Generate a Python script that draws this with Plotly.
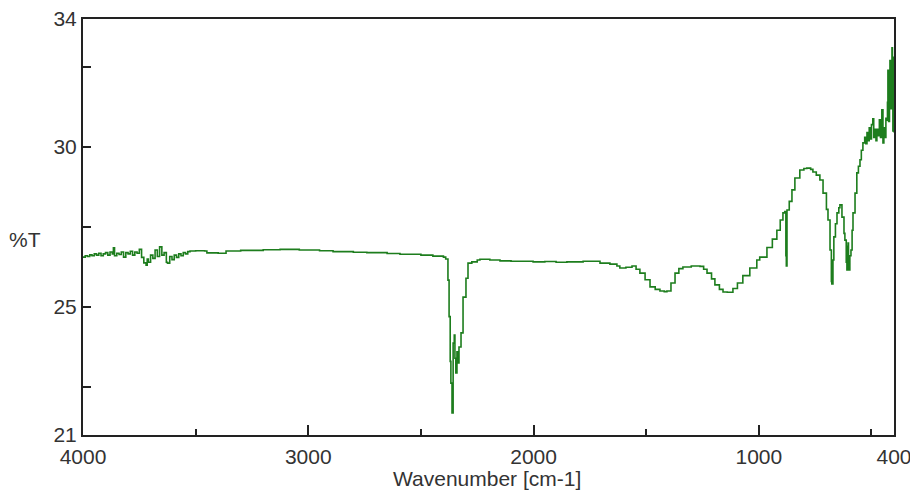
import plotly.graph_objects as go

# Wavenumber (cm-1) and transmittance (%T)
wavenumber = [
    4000, 3990, 3980, 3970, 3960, 3950, 3940, 3930, 3920, 3910, 3900, 3890, 3880, 3870,
    3865, 3860, 3850, 3840, 3830, 3820, 3810, 3800, 3790, 3780, 3770, 3760, 3750, 3740,
    3730, 3720, 3715, 3710, 3700, 3690, 3680, 3670, 3660, 3650, 3640, 3630, 3625, 3615,
    3605, 3595, 3585, 3575, 3565, 3555, 3545, 3535, 3525, 3500, 3460, 3450, 3400, 3375,
    3365, 3300, 3200, 3125, 3040, 2950, 2890, 2800, 2740, 2650, 2593, 2500, 2447, 2400,
    2390, 2380, 2375, 2370, 2367, 2362, 2357, 2352, 2349, 2345, 2340, 2336, 2331, 2322,
    2313, 2300, 2291, 2274, 2250, 2238, 2194, 2149, 2100, 2002, 1950, 1900, 1852, 1780,
    1705, 1661, 1630, 1617, 1590, 1563, 1545, 1528, 1505, 1483, 1460, 1439, 1420, 1408,
    1390, 1372, 1355, 1337, 1300, 1261, 1245, 1230, 1210, 1195, 1175, 1159, 1140, 1115,
    1095, 1071, 1040, 1009, 996, 964, 940, 920, 905, 893, 885, 880, 878, 875, 865, 853,
    840, 818, 800, 787, 770, 760, 745, 729, 715, 700, 693, 684, 678, 676, 671, 667, 660,
    653, 645, 640, 631, 622, 618, 612, 609, 606, 604, 602, 600, 596, 591, 586, 582, 573,
    565, 558, 551, 545, 538, 530, 525, 520, 515, 510, 505, 500, 494, 490, 485, 480, 476,
    470, 465, 460, 454, 449, 445, 440, 436, 431, 429, 427, 424, 420, 418, 415, 412, 409,
    407, 405, 402, 400,
]
transmittance = [
    26.56, 26.60, 26.58, 26.63, 26.60, 26.66, 26.62, 26.68, 26.60, 26.66, 26.70, 26.62, 26.72, 26.66,
    26.85, 26.60, 26.68, 26.64, 26.72, 26.56, 26.70, 26.66, 26.74, 26.62, 26.72, 26.68, 26.80, 26.55,
    26.38, 26.31, 26.50, 26.40, 26.62, 26.52, 26.78, 26.58, 26.88, 26.62, 26.70, 26.40, 26.37, 26.58,
    26.48, 26.62, 26.55, 26.66, 26.60, 26.70, 26.66, 26.73, 26.75, 26.76, 26.75, 26.69, 26.68, 26.68,
    26.75, 26.77, 26.79, 26.80, 26.78, 26.76, 26.73, 26.71, 26.70, 26.67, 26.65, 26.62, 26.59, 26.56,
    26.50, 25.84, 24.70, 23.30, 22.62, 21.69, 23.87, 24.12, 23.40, 22.94, 23.60, 23.25, 23.75, 24.19,
    25.31, 25.90, 26.37, 26.41, 26.47, 26.49, 26.47, 26.44, 26.43, 26.41, 26.42, 26.40, 26.41, 26.43,
    26.37, 26.34, 26.28, 26.22, 26.24, 26.28, 26.18, 26.06, 25.85, 25.63, 25.55, 25.50, 25.48, 25.50,
    25.75, 26.06, 26.20, 26.25, 26.28, 26.27, 26.18, 26.06, 25.88, 25.69, 25.55, 25.47, 25.46, 25.58,
    25.75, 25.98, 26.22, 26.47, 26.56, 26.86, 27.12, 27.40, 27.72, 27.94, 27.98, 26.60, 26.28, 28.03, 28.30, 28.66,
    29.03, 29.28, 29.33, 29.34, 29.30, 29.22, 29.12, 28.97, 28.56, 28.05, 27.72, 26.78, 25.80, 25.72, 26.47, 27.19, 27.60,
    27.94, 28.10, 28.19, 27.81, 27.30, 27.09, 26.40, 26.16, 26.90, 27.00, 26.30, 26.16, 26.60, 26.78, 27.40, 27.94, 28.56,
    29.19, 29.40, 29.60, 29.90, 30.13, 30.30, 30.10, 30.45, 30.20, 30.60, 30.25, 30.70, 30.88, 30.30, 30.55, 30.20, 30.55,
    30.35, 30.85, 30.30, 31.16, 30.13, 30.60, 30.30, 30.90, 30.84, 31.40, 32.40, 30.80, 31.60, 32.70, 31.20, 32.20, 33.10,
    31.50, 30.50, 32.80, 30.45,
]

x_major = [4000, 3000, 2000, 1000, 400]
x_major_text = ["4000", "3000", "2000", "1000", "400"]
x_minor = [3500, 2500, 1500, 500]
y_major = [21, 25, 30, 34]
y_major_text = ["21", "25", "30", "34"]
y_minor = [22.5, 27.5, 32.5]

FONT = "Liberation Sans, Arial, sans-serif"
TXT = "#333333"
AX = "#222222"
FS = 21

fig = go.Figure()
fig.add_trace(go.Scatter(
    x=wavenumber, y=transmittance, mode="lines",
    line=dict(color="#1d7d1d", width=1.6, shape="hv"),
    hoverinfo="x+y", showlegend=False,
))

fig.update_layout(
    width=910, height=482,
    margin=dict(l=75, r=24, t=11, b=55),
    paper_bgcolor="white", plot_bgcolor="white",
    font=dict(family=FONT, size=FS, color=TXT),
    xaxis=dict(
        range=[4000, 400], showgrid=False, zeroline=False, automargin=False,
        showline=True, mirror=True, linecolor=AX, linewidth=2,
        tickmode="array", tickvals=x_major, ticktext=x_major_text,
        ticks="inside", ticklen=10, tickwidth=1.5, tickcolor=AX,
        ticklabelstandoff=2, ticklabeloverflow="allow",
        tickfont=dict(family=FONT, size=FS, color=TXT),
        minor=dict(tickmode="array", tickvals=x_minor, ticks="inside",
                   ticklen=6, tickwidth=1.5, tickcolor=AX, showgrid=False),
    ),
    yaxis=dict(
        range=[21, 34], showgrid=False, zeroline=False, automargin=False,
        showline=True, mirror=True, linecolor=AX, linewidth=2,
        tickmode="array", tickvals=y_major, ticktext=y_major_text,
        ticks="inside", ticklen=8, tickwidth=1.5, tickcolor=AX,
        ticklabeloverflow="allow",
        tickfont=dict(family=FONT, size=FS, color=TXT),
        minor=dict(tickmode="array", tickvals=y_minor, ticks="inside",
                   ticklen=8, tickwidth=1.5, tickcolor=AX, showgrid=False),
    ),
    annotations=[
        dict(text="%T", xref="paper", yref="paper", x=-0.0715, y=0.469,
             xanchor="center", yanchor="middle", showarrow=False,
             font=dict(family=FONT, size=FS, color=TXT)),
        dict(text="Wavenumber [cm-1]", xref="paper", yref="paper", x=0.498, y=-0.105,
             xanchor="center", yanchor="middle", showarrow=False,
             font=dict(family=FONT, size=FS, color=TXT)),
    ],
)

fig.write_html("out.html")
